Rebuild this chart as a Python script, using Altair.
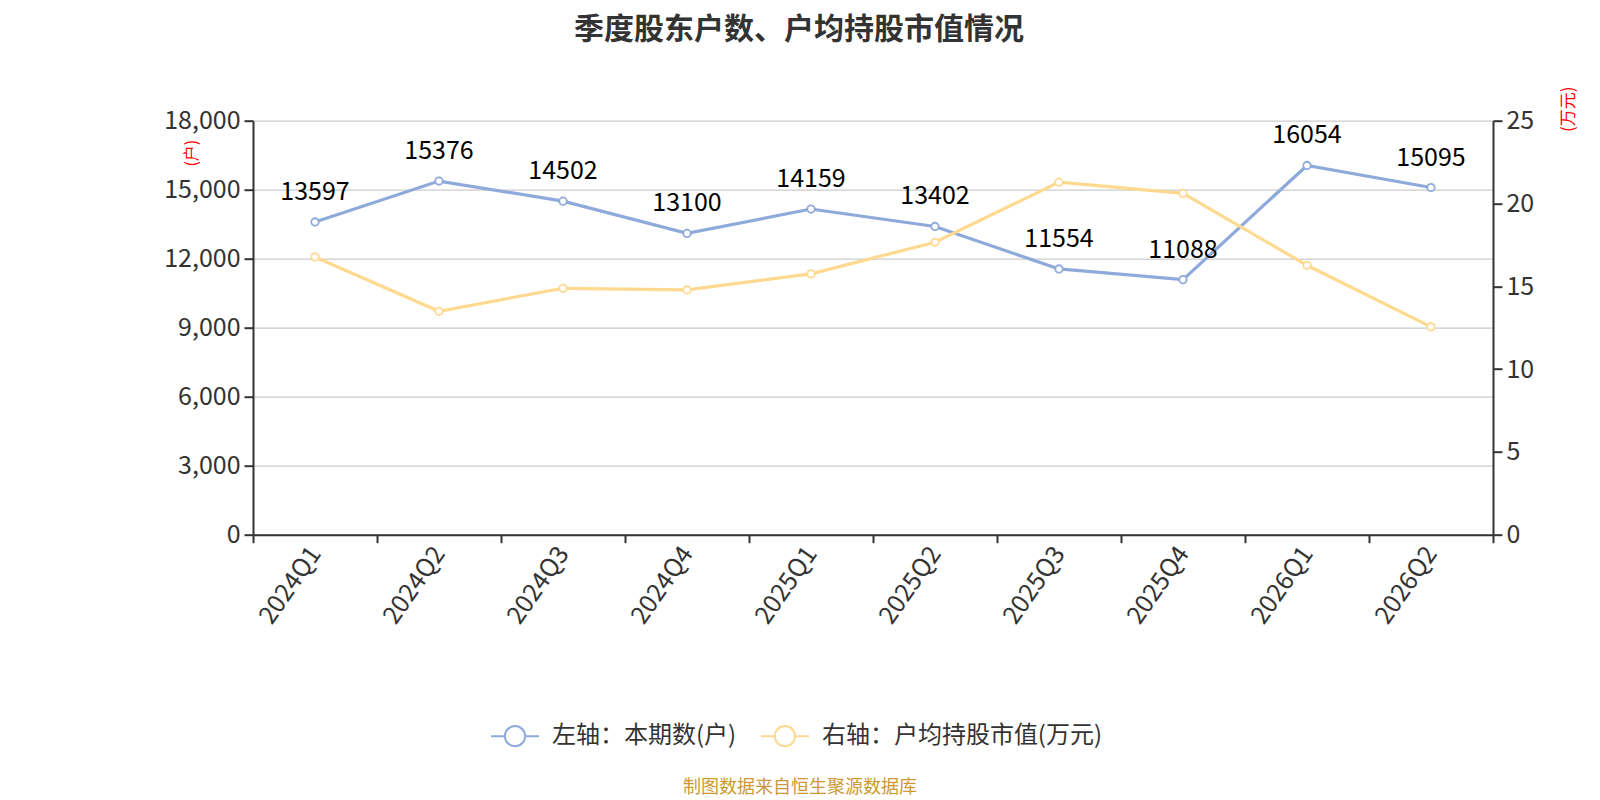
import altair as alt
import pandas as pd

quarters = ["2024Q1", "2024Q2", "2024Q3", "2024Q4", "2025Q1",
            "2025Q2", "2025Q3", "2025Q4", "2026Q1", "2026Q2"]
holders = [13597, 15376, 14502, 13100, 14159, 13402, 11554, 11088, 16054, 15095]
avg_value = [16.77, 13.49, 14.88, 14.78, 15.75, 17.66, 21.29, 20.61, 16.27, 12.55]
series_names = ["左轴：本期数(户)", "右轴：户均持股市值(万元)"]
series_colors = ["#8eaadb", "#ffd98f"]
left_ticks = [0, 3000, 6000, 9000, 12000, 15000, 18000]
right_ticks = [0, 5, 10, 15, 20, 25]
title_text = "季度股东户数、户均持股市值情况"
footer_text = "制图数据来自恒生聚源数据库"

FONT = "Noto Sans CJK SC"
AXIS_COLOR = "#333333"
LABEL_COLOR = "#333333"

df_left = pd.DataFrame({"quarter": quarters, "value": holders, "series": series_names[0]})
df_right = pd.DataFrame({"quarter": quarters, "value": avg_value, "series": series_names[1]})
df_footer = pd.DataFrame({"t": [footer_text]})

legend_path = ("M-1,0L-0.42,0M0.42,0L1,0"
               "M0.42,0A0.42,0.42,0,1,1,-0.42,0A0.42,0.42,0,1,1,0.42,0Z")

x_enc = alt.X(
    "quarter:N", sort=quarters,
    scale=alt.Scale(type="band", paddingInner=0, paddingOuter=0),
    axis=alt.Axis(title=None, labelAngle=305, labelAlign="right", labelBaseline="middle",
                  tickBand="extent", domainColor=AXIS_COLOR, domainWidth=2,
                  tickColor=AXIS_COLOR, tickWidth=2, tickSize=8,
                  labelColor=LABEL_COLOR, labelFontSize=25, labelFont=FONT,
                  labelPadding=6, grid=False),
)

color_enc = alt.Color(
    "series:N",
    scale=alt.Scale(domain=series_names, range=series_colors),
    legend=alt.Legend(title=None, orient="none", direction="horizontal",
                      legendX=237, legendY=590,
                      symbolType=legend_path, symbolSize=2304, symbolStrokeWidth=2,
                      symbolFillColor="white", labelFont=FONT, labelFontSize=24,
                      labelColor=LABEL_COLOR, labelOffset=12, columnPadding=20,
                      labelLimit=500),
)

left_y = alt.Y(
    "value:Q",
    scale=alt.Scale(domain=[0, 18000], nice=False),
    axis=alt.Axis(values=left_ticks, format=",.0f", title="(户)", titleAngle=270,
                  titleColor="red", titleFont=FONT, titleFontSize=16, titleFontWeight="normal",
                  titleX=-62, titleY=32, titleAlign="center", titleBaseline="middle",
                  domainColor=AXIS_COLOR, domainWidth=2, tickColor=AXIS_COLOR, tickWidth=2,
                  tickSize=9, labelColor=LABEL_COLOR, labelFont=FONT, labelFontSize=25,
                  labelPadding=4, grid=True, gridColor="#cccccc", gridWidth=1.2),
)

right_y = alt.Y(
    "value:Q",
    scale=alt.Scale(domain=[0, 25], nice=False),
    axis=alt.Axis(orient="right", values=right_ticks, format="d", title="(万元)", titleAngle=270,
                  titleColor="red", titleFont=FONT, titleFontSize=17, titleFontWeight="normal",
                  titleX=76, titleY=-12, titleAlign="center", titleBaseline="middle",
                  domainColor=AXIS_COLOR, domainWidth=2, tickColor=AXIS_COLOR, tickWidth=2,
                  tickSize=9, labelColor=LABEL_COLOR, labelFont=FONT, labelFontSize=25,
                  labelPadding=4, grid=False),
)

point_def = alt.OverlayMarkDef(filled=False, fill="white", size=55, strokeWidth=1.8, opacity=1)

left_base = alt.Chart(df_left).encode(x=x_enc, y=left_y)
left_line = left_base.mark_line(strokeWidth=3.2, point=point_def).encode(color=color_enc)
left_text = left_base.mark_text(dy=-30, fontSize=25, font=FONT, color="black").encode(
    text=alt.Text("value:Q", format="d"))
left_layer = alt.layer(left_line, left_text)

right_line = alt.Chart(df_right).mark_line(strokeWidth=3.2, point=point_def).encode(
    x=x_enc, y=right_y, color=color_enc)

footer = alt.Chart(df_footer).mark_text(
    font=FONT, fontSize=18, color="#cc9933", align="center", baseline="middle"
).encode(text="t:N", x=alt.value(547), y=alt.value(667))

chart = alt.layer(left_layer, right_line, footer).resolve_scale(y="independent").properties(
    width=1240, height=414,
    title=alt.Title(title_text, font=FONT, fontSize=30, fontWeight="bold", color="#333333",
                    anchor="middle", dx=-74, dy=-37),
    autosize=alt.AutoSizeParams(type="none"),
    padding={"left": 245, "top": 112.7, "right": 95, "bottom": 270},
).configure_view(stroke=None)

chart.save("out.html", embed_options={"renderer": "svg", "actions": False})
